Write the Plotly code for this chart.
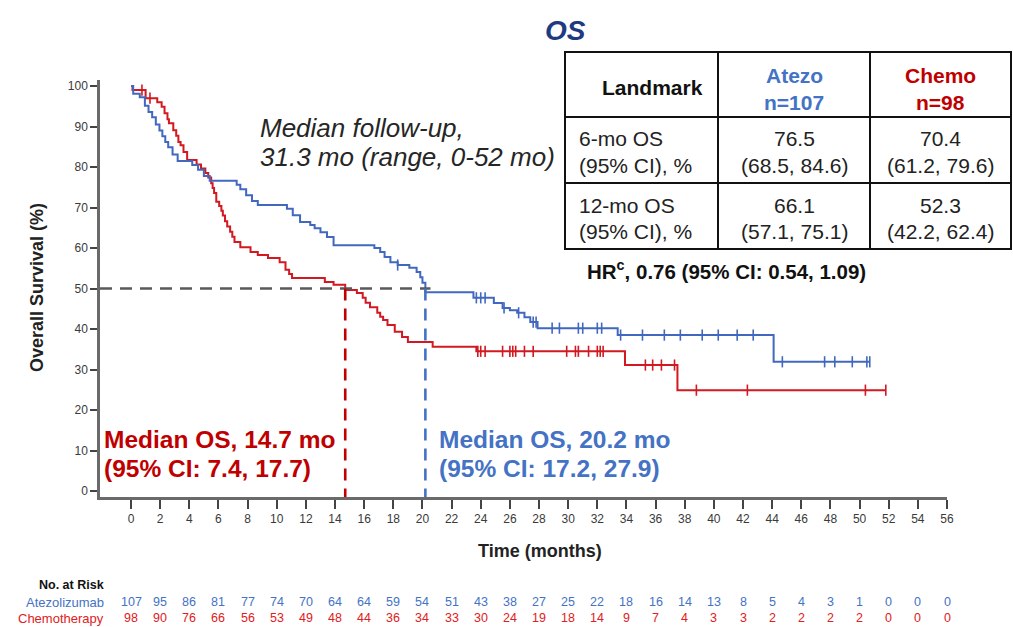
import numpy as np
import plotly.graph_objects as go

# ---------------- data ----------------
# Kaplan-Meier steps: time of each drop (months) and survival (%) after it
atezo_times = [0.15, 0.6, 0.95, 1.2, 1.45, 1.7, 1.95, 2.15, 2.35, 2.55, 2.85, 3.2,
               4.2, 4.6, 5.0, 5.4, 7.25, 7.5, 7.9, 8.3, 8.7, 10.7, 11.1, 11.6,
               12.3, 12.6, 13.0, 13.45, 13.9, 16.7, 17.1, 17.4, 17.8, 18.3, 19.1,
               19.6, 19.85, 20.0, 20.2, 23.5, 24.9, 25.5, 26.0, 26.5, 27.0, 27.4,
               27.9, 33.4, 44.1]
atezo_surv = [98.1, 97.2, 95.1, 93.6, 92.3, 90.5, 89.0, 87.6, 86.2, 84.9, 83.1, 81.5,
              80.5, 79.3, 77.8, 76.6, 75.6, 74.5, 73.0, 71.6, 70.6, 69.7, 68.1, 66.4,
              65.7, 64.9, 63.9, 62.7, 60.7, 60.0, 59.0, 57.8, 56.5, 55.8, 55.1,
              54.1, 52.8, 51.4, 49.1, 47.7, 46.4, 45.2, 44.6, 44.0, 42.9, 41.7,
              40.2, 38.5, 31.9]
atezo_censor = [18.3, 23.7, 24.0, 24.3, 25.6, 26.6, 27.6, 27.8, 28.9, 29.4, 30.7, 31.0,
                32.0, 32.3, 33.6, 35.1, 36.6, 37.7, 39.2, 40.3, 41.6, 42.7, 44.7,
                47.6, 48.3, 49.5, 50.5, 50.7]

chemo_times = [0.1, 1.0, 1.8, 2.1, 2.3, 2.5, 2.6, 2.9, 3.1, 3.25, 3.4, 3.6, 3.85,
               4.5, 4.8, 5.1, 5.3, 5.5, 5.6, 5.7, 5.85, 6.05, 6.2, 6.3, 6.45, 6.6,
               6.8, 6.95, 7.1, 7.5, 8.2, 8.7, 9.4, 10.2, 10.6, 10.85, 11.05, 13.3,
               13.9, 14.7, 15.5, 15.9, 16.1, 16.4, 16.9, 17.1, 17.3, 17.6, 18.1,
               18.6, 19.0, 20.7, 23.7, 33.9, 37.5]
chemo_surv = [99.0, 97.0, 96.0, 94.9, 93.3, 91.8, 90.8, 89.1, 87.7, 86.2, 85.4, 83.7, 81.7,
              80.6, 79.6, 78.5, 77.4, 76.0, 74.8, 73.6, 71.4, 70.4, 69.2, 68.0, 66.6, 65.3,
              64.0, 62.8, 61.5, 60.2, 59.0, 58.3, 57.5, 56.5, 54.6, 53.6, 52.6, 51.6,
              50.9, 49.6, 48.9, 47.7, 46.5, 45.4, 44.0, 43.0, 42.2, 41.0, 39.3,
              38.0, 36.8, 35.6, 34.5, 31.1, 24.9]
chemo_censor = [0.75, 1.3, 23.8, 24.0, 24.3, 25.5, 26.0, 26.2, 26.4, 27.0, 27.6, 29.9,
                30.5, 30.7, 31.4, 32.0, 32.2, 32.4, 35.3, 35.8, 36.4, 37.3, 38.8,
                42.3, 50.4, 51.8]

median_atezo = 20.2
median_chemo = 14.7
median_ci_atezo = (17.2, 27.9)
median_ci_chemo = (7.4, 17.7)

risk_months = list(range(0, 57, 2))
atezo_at_risk = [107, 95, 86, 81, 77, 74, 70, 64, 64, 59, 54, 51, 43, 38, 27, 25, 22,
                 18, 16, 14, 13, 8, 5, 4, 3, 1, 0, 0, 0]
chemo_at_risk = [98, 90, 76, 66, 56, 53, 49, 48, 44, 36, 34, 33, 30, 24, 19, 18, 14,
                 9, 7, 4, 3, 3, 2, 2, 2, 2, 0, 0, 0]

table_rows = ["6-mo OS", "12-mo OS"]
atezo_landmark = [("76.5", "(68.5, 84.6)"), ("66.1", "(57.1, 75.1)")]
chemo_landmark = [("70.4", "(61.2, 79.6)"), ("52.3", "(42.2, 62.4)")]
hazard_ratio = "0.76"
hr_ci = "(95% CI: 0.54, 1.09)"

# ---------------- styling ----------------
BLUE = "#4168BE"
RED = "#D21820"
BLUE_TXT = "#4472C4"
RED_TXT = "#C00000"
FONT = "Liberation Sans, Arial, sans-serif"

W, H = 1013, 627
ML, MR, MT, MB = 100, 66, 80, 130


def xp(px):
    return (px - ML) / (W - ML - MR)


def yp(py):
    return (H - MB - py) / (H - MT - MB)


def km_xy(times, surv, end):
    x = [0.0] + list(times) + [end]
    y = [100.0] + list(surv) + [surv[-1]]
    return x, y


def surv_at(times, surv, t):
    tt = np.array([0.0] + list(times))
    ss = np.array([100.0] + list(surv))
    idx = np.searchsorted(tt, np.asarray(t), side="right") - 1
    return ss[idx]


fig = go.Figure()

for times, surv, cens, col in [(chemo_times, chemo_surv, chemo_censor, RED),
                               (atezo_times, atezo_surv, atezo_censor, BLUE)]:
    end = max(max(cens), times[-1])
    x, y = km_xy(times, surv, end)
    fig.add_trace(go.Scatter(x=x, y=y, mode="lines", line=dict(color=col, width=2, shape="hv"),
                             hoverinfo="skip"))
    fig.add_trace(go.Scatter(x=cens, y=surv_at(times, surv, cens), mode="markers",
                             marker=dict(symbol="line-ns", size=8, line=dict(color=col, width=1.6)),
                             hoverinfo="skip"))

# median reference lines
x0_axis = -2.13
y0_axis = -1.48
fig.add_shape(type="line", xref="x", yref="y", x0=x0_axis, x1=median_atezo + 0.35, y0=50, y1=50,
              line=dict(color="#5A5A5A", width=2.6, dash="12px,8px"))
fig.add_shape(type="line", xref="x", yref="y", x0=median_chemo, x1=median_chemo, y0=50, y1=y0_axis,
              line=dict(color=RED_TXT, width=2.6, dash="12px,8px"))
fig.add_shape(type="line", xref="x", yref="y", x0=median_atezo, x1=median_atezo, y0=50, y1=y0_axis,
              line=dict(color=BLUE_TXT, width=2.6, dash="12px,8px"))

annotations = []


def add_text(px, py, text, size, color="#222222", xanchor="left", xref="paper"):
    annotations.append(dict(x=px if xref == "x" else xp(px), y=yp(py), xref=xref, yref="paper",
                            text=text, showarrow=False, xanchor=xanchor, yanchor="middle",
                            font=dict(family=FONT, size=size, color=color)))


# title
add_text(565, 30, "<b><i>OS</i></b>", 28, "#1F3A80", "center")

# follow-up note
add_text(258, 128, "<i>Median follow-up,</i>", 26, "#262626")
add_text(258, 157, "<i>31.3 mo (range, 0-52 mo)</i>", 26, "#262626")

# median labels
add_text(102, 439, f"<b>Median OS, {median_chemo} mo</b>", 24.5, RED_TXT)
add_text(102, 468, f"<b>(95% CI: {median_ci_chemo[0]}, {median_ci_chemo[1]})</b>", 24.5, RED_TXT)
add_text(437, 439, f"<b>Median OS, {median_atezo} mo</b>", 24.5, BLUE_TXT)
add_text(437, 468, f"<b>(95% CI: {median_ci_atezo[0]}, {median_ci_atezo[1]})</b>", 24.5, BLUE_TXT)

# landmark table
tx0, tx1, tx2, tx3 = 565, 718, 870, 1011
ty = [52, 117, 183, 249]
shapes_tbl = []
shapes_tbl.append(dict(type="rect", xref="paper", yref="paper", x0=xp(tx0), x1=xp(tx3),
                       y0=yp(ty[0]), y1=yp(ty[3]), line=dict(color="#111111", width=2),
                       fillcolor="white", layer="below"))
for yy in ty[1:3]:
    shapes_tbl.append(dict(type="line", xref="paper", yref="paper", x0=xp(tx0), x1=xp(tx3),
                           y0=yp(yy), y1=yp(yy), line=dict(color="#111111", width=2)))
for xx in (tx1, tx2):
    shapes_tbl.append(dict(type="line", xref="paper", yref="paper", x0=xp(xx), x1=xp(xx),
                           y0=yp(ty[0]), y1=yp(ty[3]), line=dict(color="#111111", width=2)))

c2 = (tx1 + tx2) / 2
c3 = (tx2 + tx3) / 2
add_text(652, 87, "<b>Landmark</b>", 21, "#111111", "center")
add_text(c2, 75, "<b>Atezo</b>", 21, BLUE_TXT, "center")
add_text(c2, 102, f"<b>n={atezo_at_risk[0]}</b>", 21, BLUE_TXT, "center")
add_text(c3, 75, "<b>Chemo</b>", 21, RED_TXT, "center")
add_text(c3, 102, f"<b>n={chemo_at_risk[0]}</b>", 21, RED_TXT, "center")
row_y = [(138, 165), (205, 232)]
for i, label in enumerate(table_rows):
    ya, yb = row_y[i]
    add_text(577, ya, label, 21, "#222222")
    add_text(577, yb, "(95% CI), %", 21, "#222222")
    add_text(c2, ya, atezo_landmark[i][0], 21, "#222222", "center")
    add_text(c2, yb, atezo_landmark[i][1], 21, "#222222", "center")
    add_text(c3, ya, chemo_landmark[i][0], 21, "#222222", "center")
    add_text(c3, yb, chemo_landmark[i][1], 21, "#222222", "center")

add_text(585, 270, f"<b>HR<sup>c</sup>, {hazard_ratio} {hr_ci}</b>", 20.5, "#111111")

# number at risk
add_text(106, 585, "<b>No. at Risk</b>", 12.5, "#111111", "right")
add_text(106, 602, "Atezolizumab", 13, BLUE_TXT, "right")
add_text(106, 618, "Chemotherapy", 13, "#E02020", "right")
for m, a, c in zip(risk_months, atezo_at_risk, chemo_at_risk):
    add_text(m, 602, str(a), 12.5, BLUE_TXT, "center", xref="x")
    add_text(m, 618, str(c), 12.5, "#E02020", "center", xref="x")

# axis titles
annotations.append(dict(x=xp(37), y=yp(288), xref="paper", yref="paper",
                        text="<b>Overall Survival (%)</b>", textangle=-90, showarrow=False,
                        xanchor="center", yanchor="middle",
                        font=dict(family=FONT, size=18, color="#222222")))
add_text(540, 551, "<b>Time (months)</b>", 18, "#222222", "center")

fig.update_layout(
    width=W, height=H,
    margin=dict(l=ML, r=MR, t=MT, b=MB),
    paper_bgcolor="white", plot_bgcolor="white",
    showlegend=False,
    font=dict(family=FONT),
    annotations=annotations,
    shapes=list(fig.layout.shapes) + shapes_tbl,
)
fig.update_xaxes(range=[x0_axis, 56], tickmode="array", tickvals=risk_months,
                 ticks="outside", ticklen=9, tickwidth=1.5, tickcolor="#444444",
                 showline=True, linecolor="#6A6A6A", linewidth=2.5,
                 showgrid=False, zeroline=False,
                 tickfont=dict(family=FONT, size=12, color="#3A3A3A"))
fig.update_yaxes(range=[y0_axis, 101.48], tickmode="array", tickvals=list(range(0, 101, 10)),
                 ticks="outside", ticklen=7, tickwidth=1.5, tickcolor="#444444",
                 showline=True, linecolor="#6A6A6A", linewidth=2.5,
                 showgrid=False, zeroline=False,
                 tickfont=dict(family=FONT, size=12, color="#3A3A3A"))

fig.write_html("out.html")
